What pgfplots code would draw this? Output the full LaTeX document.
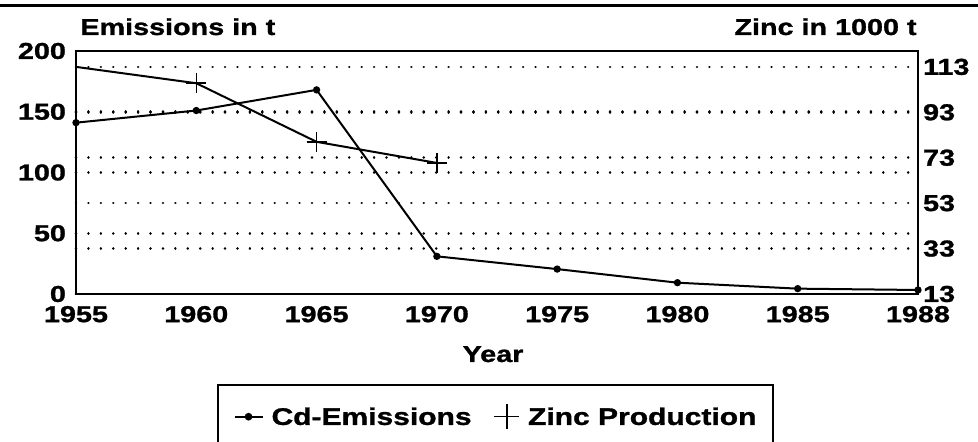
\documentclass[border=0pt]{standalone}
\usepackage{fontspec}
\setmainfont{Liberation Sans}[FakeStretch=1.25, BoldFeatures={FakeBold=1.2}]
\usepackage{pgfplots}
\pgfplotsset{compat=1.18}
\newcommand{\cf}{\bfseries\fontsize{11.5}{13}\selectfont}
\begin{document}
\begin{tikzpicture}[x=1pt,y=1pt]
\useasboundingbox (0,0) rectangle (489,221);
\draw[line width=1.5pt] (0,218) -- (489,218);
\draw[line width=1pt] (109,-5) -- (109,28.5) -- (386.5,28.5) -- (386.5,-5);
\node[anchor=base west, inner sep=0pt, font=\cf] at (40,203.5) {Emissions in t};
\node[anchor=base east, inner sep=0pt, font=\cf] at (458.5,203.5) {Zinc in 1000 t};
\node[anchor=base, inner sep=0pt, font=\cf] at (246.5,40) {Year};
\begin{axis}[
  at={(38pt,74pt)}, anchor=south west, scale only axis,
  width=421pt, height=121.5pt,
  xmin=0, xmax=7, ymin=0, ymax=200,
  xtick={0,...,7},
  xticklabels={1955,1960,1965,1970,1975,1980,1985,1988},
  ytick={0,50,100,150,200},
  ytick pos=left, xtick pos=bottom,
  major tick length=0pt,
  axis line style={line width=1pt},
  ymajorgrids,
  major grid style={line width=1.3pt, dash pattern=on 0.01pt off 6.2pt, line cap=round, black},
  /pgf/number format/assume math mode=true,
  ticklabel style={font=\cf},
  yticklabel style={xshift=-1.5pt},
  xticklabel style={yshift=-2.5pt},
  legend columns=2,
  legend style={draw=none, fill=none, font=\cf\fontsize{12}{14}\selectfont,
    at={(0.4976,-0.505)}, anchor=center,
    nodes={inner sep=0pt},
    /tikz/every odd column/.append style={column sep=4pt},
    /tikz/every even column/.append style={column sep=11pt}},
]
\addplot[black, line width=1pt, mark=*, mark size=1.3pt,
  legend image code/.code={\draw[black, line width=1pt] (0pt,0.5pt) -- (14pt,0.5pt); \fill[black] (7pt,0.5pt) circle (1.4pt);}]
  coordinates {(0,141) (1,151) (2,168) (3,31) (4,20.5) (5,9.3) (6,4.4) (7,3.3)};
\addlegendentry{Cd-Emissions}
\addlegendimage{black, line width=0.75pt, legend image code/.code={\draw[black, line width=0.75pt] (0pt,0.5pt) -- (12.5pt,0.5pt); \draw[black, line width=0.75pt] (6.25pt,-5.75pt) -- (6.25pt,6.75pt);}}
\addlegendentry{Zinc Production}
\end{axis}
\begin{axis}[
  at={(38pt,74pt)}, anchor=south west, scale only axis,
  width=421pt, height=121.5pt,
  xmin=0, xmax=7, ymin=13, ymax=120,
  axis x line=none, axis y line*=right,
  ytick={13,33,53,73,93,113},
  major tick length=0pt,
  axis line style={line width=1pt},
  ymajorgrids,
  major grid style={line width=1.3pt, dash pattern=on 0.01pt off 6.2pt, line cap=round, black},
  /pgf/number format/assume math mode=true,
  ticklabel style={font=\cf},
  yticklabel style={xshift=-1pt},
]
\addplot[black, line width=1pt, mark=+, mark size=5pt, mark options={line width=0.75pt}, mark indices={2,3,4}]
  coordinates {(0,113) (1,105.8) (2,80) (3,70.7)};
\end{axis}
\end{tikzpicture}
\end{document}
